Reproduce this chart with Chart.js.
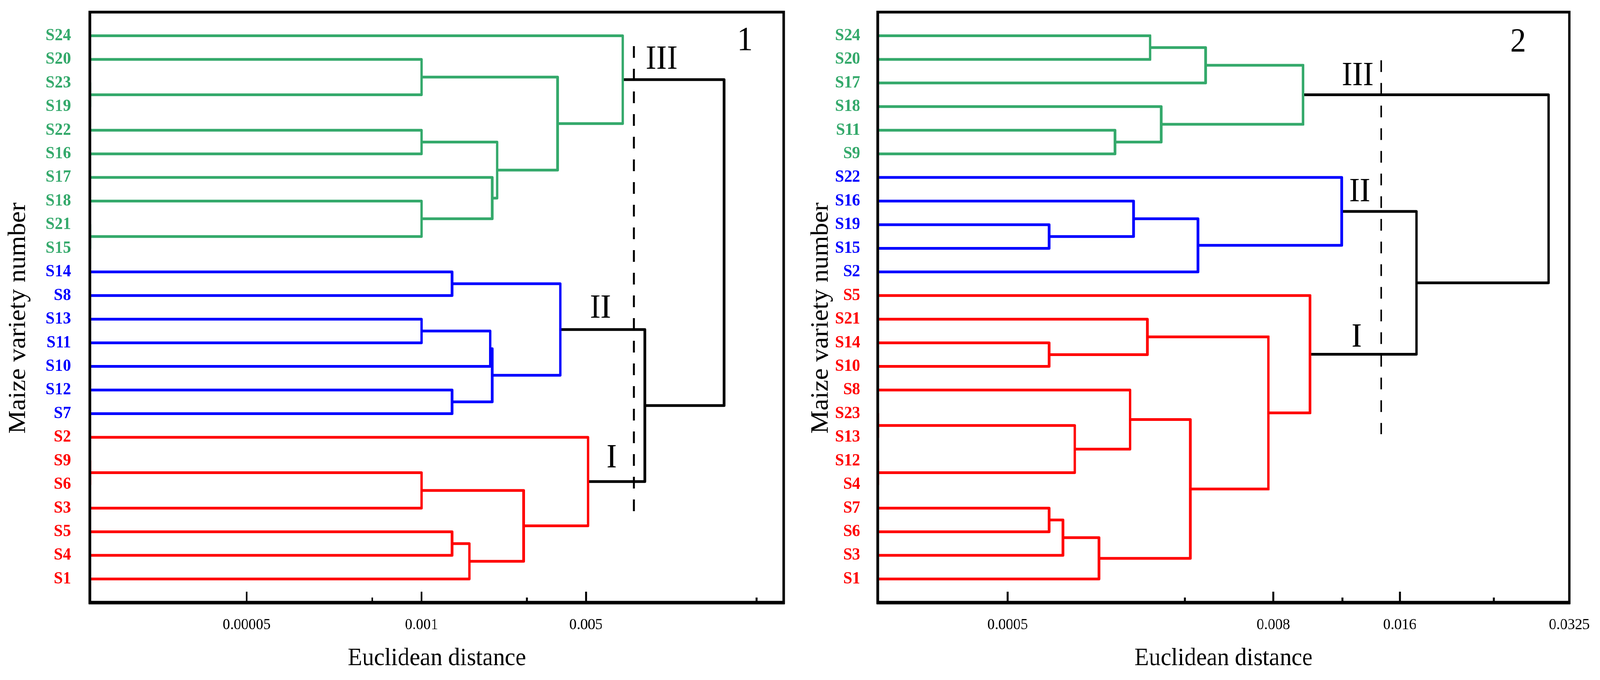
<!DOCTYPE html>
<html>
<head>
<meta charset="utf-8">
<title>Maize variety clustering</title>
<script src="https://cdn.jsdelivr.net/npm/chart.js@4"></script>
<style>
  html, body { margin: 0; padding: 0; background: #fff; overflow: hidden; }
  #wrap { position: absolute; left: 0; top: 0; width: 4326px; height: 1740px; transform-origin: 0 0; }
  canvas { position: absolute; top: 0; }
  #chart1 { left: 0; }
  #chart2 { left: 2150px; }
</style>
</head>
<body>
<div id="wrap">
  <canvas id="chart1" width="2150" height="1740"></canvas>
  <canvas id="chart2" width="2176" height="1740"></canvas>
</div>
<script>
// ---- panel 1 ----
// leaves listed top to bottom, with the cluster each belongs to
const leaves1 = ['S24','S20','S23','S19','S22','S16','S17','S18','S21','S15',
                 'S14','S8','S13','S11','S10','S12','S7',
                 'S2','S9','S6','S3','S5','S4','S1'];
const groups1 = ['III','III','III','III','III','III','III','III','III','III',
                 'II','II','II','II','II','II','II',
                 'I','I','I','I','I','I','I'];
// [left, right, height]; a number refers to an earlier merge
const merges1 = [
  ['S23','S19', 0], ['S20', 0, 47.8], ['S22','S16', 47.8], ['S21','S15', 0],
  ['S18', 3, 47.8], ['S17', 4, 58.0], [2, 5, 58.7], [1, 6, 67.4], ['S24', 7, 76.8],
  ['S14','S8', 52.2], ['S13','S11', 47.8], [10, 'S10', 57.7], ['S12','S7', 52.2],
  [11, 12, 58.0], [9, 13, 67.8],
  ['S9','S6', 0], [15, 'S3', 47.8], ['S5','S4', 52.2], [17, 'S1', 54.7],
  [16, 18, 62.5], ['S2', 19, 71.8],
  [14, 20, 80.0], [8, 21, 91.4]
];
const tickPos1 = [22.6, 47.8, 71.5];
const tickLabels1 = ['0.00005', '0.001', '0.005'];
const minorTicks1 = [40.7, 63.0, 96.1];
const cut1 = 78.4;

// ---- panel 2 ----
const leaves2 = ['S24','S20','S17','S18','S11','S9',
                 'S22','S16','S19','S15','S2',
                 'S5','S21','S14','S10','S8','S23','S13','S12','S4','S7','S6','S3','S1'];
const groups2 = ['III','III','III','III','III','III',
                 'II','II','II','II','II',
                 'I','I','I','I','I','I','I','I','I','I','I','I','I'];
const merges2 = [
  ['S24','S20', 39.4], [0, 'S17', 47.4], ['S11','S9', 34.3], ['S18', 2, 41.0], [1, 3, 61.5],
  ['S19','S15', 24.8], ['S16', 5, 37.0], [6, 'S2', 46.3], ['S22', 7, 67.1],
  ['S14','S10', 24.8], ['S21', 9, 39.0], ['S23','S13', 0], ['S12','S4', 0], [11, 12, 28.5],
  ['S8', 13, 36.5], ['S7','S6', 24.8], [15, 'S3', 26.8], [16, 'S1', 32.0], [14, 17, 45.2],
  [10, 18, 56.5], ['S5', 19, 62.5],
  [8, 20, 77.9], [4, 21, 97.0]
];
const tickPos2 = [18.8, 57.2, 75.5, 100];
const tickLabels2 = ['0.0005', '0.008', '0.016', '0.0325'];
const minorTicks2 = [44.4, 67.2, 89.1];
const cut2 = 72.8;

const groupColors = { I: '#ff0000', II: '#0000ff', III: '#34a96b' };
const serif = '"Liberation Serif", "Times New Roman", serif';

// the window may be narrower than the 4326px figure: squeeze it to fit
const sx = Math.min(1, window.innerWidth / 4326);
document.getElementById('wrap').style.transform = 'scaleX(' + sx + ')';

function dendrogram(leaves, groups, merges) {
  const n = leaves.length;
  const nodes = {};
  leaves.forEach((name, i) => { nodes[name] = { y: n - 1 - i, h: 0, group: groups[i] }; });
  const get = ref => typeof ref === 'number' ? nodes['#' + ref] : nodes[ref];
  return merges.map(([a, b, h], k) => {
    const A = get(a), B = get(b);
    const group = A.group === B.group ? A.group : null;
    nodes['#' + k] = { y: (A.y + B.y) / 2, h: h, group: group };
    return {
      data: [{ x: A.h, y: A.y }, { x: h, y: A.y }, { x: h, y: B.y }, { x: B.h, y: B.y }],
      borderColor: group ? groupColors[group] : '#000',
      borderWidth: 7,
      borderJoinStyle: 'round',
      pointRadius: 0,
      showLine: true,
      fill: false
    };
  });
}

const framePlugin = {
  id: 'frame',
  afterDraw(chart, args, opts) {
    const { ctx, chartArea: a, scales: { x, y } } = chart;
    ctx.save();
    ctx.strokeStyle = '#000';
    ctx.lineWidth = 5;
    const tick = (v, len) => {
      const px = x.getPixelForValue(v);
      ctx.beginPath();
      ctx.moveTo(px, a.bottom);
      ctx.lineTo(px, a.bottom - len);
      ctx.stroke();
    };
    opts.major.forEach(v => tick(v, 28));
    opts.minor.forEach(v => tick(v, 13));
    ctx.lineWidth = 7;
    ctx.strokeRect(a.left, a.top, a.width, a.height);
    ctx.lineWidth = 9;
    ctx.beginPath();
    ctx.moveTo(a.left - 3, a.bottom);
    ctx.lineTo(a.right + 3, a.bottom);
    ctx.stroke();
    ctx.fillStyle = '#000';
    ctx.font = '86px ' + serif;
    ctx.textAlign = 'center';
    ctx.textBaseline = 'alphabetic';
    opts.notes.forEach(t => ctx.fillText(t.text, x.getPixelForValue(t.x), y.getPixelForValue(t.y)));
    // y axis title, a little below the middle as in the source figure
    ctx.translate(opts.titleX, opts.titleY);
    ctx.rotate(-Math.PI / 2);
    ctx.font = '67px ' + serif;
    ctx.textBaseline = 'middle';
    ctx.fillText('Maize variety number', 0, 0);
    ctx.restore();
  }
};

function makeChart(id, p) {
  const n = p.leaves.length;
  const sets = dendrogram(p.leaves, p.groups, p.merges);
  sets.push({
    data: [{ x: p.cut, y: p.cutFrom }, { x: p.cut, y: p.cutTo }],
    borderColor: '#000', borderWidth: 5, borderDash: [30, 28],
    pointRadius: 0, showLine: true, fill: false
  });
  return new Chart(document.getElementById(id), {
    type: 'scatter',
    data: { datasets: sets },
    plugins: [framePlugin],
    options: {
      responsive: false,
      devicePixelRatio: 1,
      animation: false,
      events: [],
      layout: { padding: { top: 31, right: p.padRight, left: 0, bottom: 0 } },
      plugins: {
        legend: { display: false },
        tooltip: { enabled: false },
        frame: { major: p.tickPos, minor: p.minor, notes: p.notes, titleX: p.titleX, titleY: 814 }
      },
      scales: {
        x: {
          type: 'linear', min: 0, max: 100,
          afterBuildTicks: s => { s.ticks = p.tickPos.map(v => ({ value: v })); },
          afterFit: s => { s.height = 198; s.paddingLeft = 0; s.paddingRight = 0; },
          grid: { display: false, drawTicks: false },
          border: { display: false },
          ticks: {
            autoSkip: false, maxRotation: 0, padding: 33, color: '#000',
            font: { family: serif, size: 40 },
            callback: v => p.tickLabels[p.tickPos.indexOf(v)]
          },
          title: {
            display: true, text: 'Euclidean distance', color: '#000',
            font: { family: serif, size: 64 }, padding: { top: 0, bottom: 16 }
          }
        },
        y: {
          type: 'linear', min: -1, max: 24,
          afterBuildTicks: s => { s.ticks = p.leaves.map((_, i) => ({ value: i })); },
          afterFit: s => { s.width = p.yWidth; s.paddingTop = 0; s.paddingBottom = 0; },
          grid: { display: false, drawTicks: false },
          border: { display: false },
          ticks: {
            autoSkip: false, padding: p.labelGap,
            font: { family: serif, size: 44, weight: 'bold' },
            color: c => groupColors[p.groups[n - 1 - c.tick.value]],
            callback: v => p.leaves[n - 1 - v]
          }
        }
      }
    }
  });
}

makeChart('chart1', {
  leaves: leaves1, groups: groups1, merges: merges1,
  tickPos: tickPos1, tickLabels: tickLabels1, minor: minorTicks1,
  cut: cut1, cutFrom: 22.56, cutTo: 2.66,
  notes: [
    { text: 'III', x: 82.4, y: 21.6 }, { text: 'II', x: 73.6, y: 11.06 },
    { text: 'I', x: 75.2, y: 4.73 }, { text: '1', x: 94.4, y: 22.4 }
  ],
  padRight: 31, yWidth: 243, labelGap: 51, titleX: 50
});

makeChart('chart2', {
  leaves: leaves2, groups: groups2, merges: merges2,
  tickPos: tickPos2, tickLabels: tickLabels2, minor: minorTicks2,
  cut: cut2, cutFrom: 21.96, cutTo: 6.13,
  notes: [
    { text: 'III', x: 69.4, y: 20.9 }, { text: 'II', x: 69.7, y: 16.0 },
    { text: 'I', x: 69.25, y: 9.84 }, { text: '2', x: 92.6, y: 22.33 }
  ],
  padRight: 83, yWidth: 223, labelGap: 47, titleX: 70
});
</script>
</body>
</html>
